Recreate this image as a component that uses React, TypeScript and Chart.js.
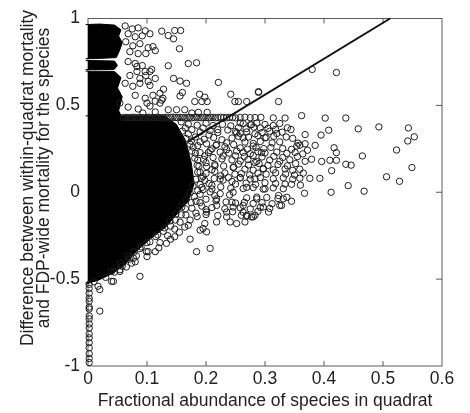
import React, { useEffect, useRef } from 'react';
import { Chart, registerables } from 'chart.js';

Chart.register(...registerables);

type Pt = [number, number];

const xTitle = 'Fractional abundance of species in quadrat';
const yTitleLines = [
  'Difference between within-quadrat mortality',
  'and FDP-wide mortality for the species',
];
const xTicks = [0, 0.1, 0.2, 0.3, 0.4, 0.5, 0.6];
const yTicks = [-1, -0.5, 0, 0.5, 1];

// saturated part of the cloud, where circles merge into solid black
const coreTop: Pt[] = [
  [-0.004, 0.965], [0.02, 0.968], [0.045, 0.962], [0.056, 0.935], [0.052, 0.9],
  [0.058, 0.86], [0.054, 0.82], [0.048, 0.775], [0.01, 0.769], [-0.004, 0.769],
];
const coreMid: Pt[] = [
  [-0.004, 0.758], [0.008, 0.758], [0.045, 0.755], [0.05, 0.73], [0.044, 0.706],
  [0.008, 0.706], [-0.004, 0.706],
];
const coreLow: Pt[] = [
  [-0.004, 0.697], [0.008, 0.697], [0.045, 0.695], [0.056, 0.66], [0.05, 0.6],
  [0.058, 0.55], [0.052, 0.47], [0.06, 0.41], [0.08, 0.34], [0.1, 0.23],
  [0.115, 0.06], [0.122, -0.1], [0.115, -0.2], [0.08, -0.3], [0.06, -0.4],
  [0.045, -0.45], [0.02, -0.5], [-0.004, -0.53],
];
// overlap zone around the core, where circles still read as solid
const halo: Pt[] = [
  [-0.004, 0.44], [0.13, 0.44], [0.15, 0.39], [0.165, 0.3], [0.175, 0.17],
  [0.18, 0.05], [0.17, -0.05], [0.152, -0.12], [0.132, -0.2], [0.105, -0.27],
  [0.082, -0.34], [0.062, -0.42], [0.04, -0.47], [0.015, -0.51], [-0.004, -0.52],
];

const bandRow: Pt[] = [
  [0.06, 0.43], [0.064, 0.431], [0.068, 0.429], [0.072, 0.43], [0.076, 0.432],
  [0.08, 0.43], [0.084, 0.429], [0.088, 0.431], [0.092, 0.43], [0.096, 0.428],
  [0.1, 0.43], [0.104, 0.432], [0.108, 0.43], [0.112, 0.429], [0.116, 0.431],
  [0.12, 0.43], [0.124, 0.428], [0.128, 0.43], [0.132, 0.431], [0.136, 0.429],
  [0.14, 0.43], [0.144, 0.432], [0.148, 0.43], [0.152, 0.429], [0.156, 0.431],
  [0.16, 0.43], [0.164, 0.428], [0.168, 0.43], [0.172, 0.431], [0.176, 0.429],
  [0.18, 0.43], [0.184, 0.432], [0.188, 0.43], [0.192, 0.429], [0.196, 0.431],
  [0.2, 0.43], [0.204, 0.428], [0.208, 0.43], [0.212, 0.431], [0.216, 0.429],
  [0.22, 0.43], [0.225, 0.432], [0.23, 0.43], [0.235, 0.429], [0.24, 0.431],
  [0.245, 0.43], [0.25, 0.428], [0.258, 0.43], [0.266, 0.432], [0.275, 0.429],
  [0.283, 0.43], [0.293, 0.431], [0.314, 0.428], [0.334, 0.427], [0.362, 0.441],
  [0.402, 0.427], [0.437, 0.427],
];

const upperCloud: Pt[] = [
  [0.063, 0.957], [0.075, 0.94], [0.085, 0.946], [0.097, 0.929], [0.068, 0.912],
  [0.08, 0.895], [0.092, 0.9], [0.105, 0.912], [0.064, 0.866], [0.076, 0.843],
  [0.088, 0.855], [0.102, 0.832], [0.071, 0.809], [0.085, 0.798], [0.098, 0.798],
  [0.114, 0.815], [0.125, 0.927], [0.136, 0.902], [0.147, 0.931], [0.157, 0.931],
  [0.145, 0.883], [0.155, 0.826], [0.11, 0.838], [0.068, 0.752], [0.08, 0.741],
  [0.092, 0.729], [0.083, 0.695], [0.098, 0.672], [0.108, 0.707], [0.071, 0.672],
  [0.063, 0.627], [0.076, 0.61], [0.088, 0.627], [0.102, 0.638], [0.114, 0.655],
  [0.122, 0.57], [0.08, 0.558], [0.097, 0.541], [0.114, 0.524], [0.127, 0.541],
  [0.054, 0.513], [0.068, 0.49], [0.085, 0.479], [0.105, 0.496], [0.122, 0.513],
  [0.136, 0.728], [0.17, 0.741], [0.184, 0.745], [0.145, 0.655], [0.156, 0.64],
  [0.167, 0.627], [0.221, 0.632], [0.128, 0.593], [0.16, 0.574], [0.156, 0.554],
  [0.189, 0.564], [0.181, 0.522], [0.193, 0.522], [0.202, 0.522], [0.198, 0.547],
  [0.242, 0.564], [0.249, 0.522], [0.255, 0.522], [0.269, 0.522], [0.289, 0.575],
  [0.323, 0.522], [0.136, 0.475], [0.15, 0.475], [0.164, 0.475], [0.176, 0.456],
  [0.187, 0.46], [0.202, 0.46], [0.114, 0.462], [0.083, 0.724], [0.097, 0.695],
  [0.105, 0.695], [0.088, 0.655], [0.105, 0.615], [0.11, 0.558], [0.125, 0.53],
  [0.1, 0.513], [0.093, 0.456], [0.38, 0.707], [0.421, 0.689],
];

const midCloud: Pt[] = [
  [0.17, 0.392], [0.185, 0.386], [0.2, 0.397], [0.212, 0.384], [0.228, 0.391],
  [0.242, 0.382], [0.263, 0.395], [0.275, 0.388], [0.286, 0.398], [0.3, 0.39],
  [0.314, 0.384], [0.325, 0.396],
  [0.16, 0.352], [0.176, 0.36], [0.19, 0.347], [0.207, 0.355], [0.22, 0.344],
  [0.237, 0.358], [0.25, 0.349], [0.258, 0.339], [0.269, 0.347], [0.283, 0.336],
  [0.295, 0.344], [0.308, 0.351], [0.32, 0.338], [0.329, 0.346],
  [0.166, 0.31], [0.182, 0.318], [0.197, 0.305], [0.213, 0.315], [0.227, 0.302],
  [0.244, 0.312], [0.266, 0.289], [0.28, 0.281], [0.292, 0.292], [0.312, 0.284],
  [0.325, 0.29], [0.356, 0.283], [0.368, 0.279],
  [0.173, 0.276], [0.186, 0.268], [0.201, 0.279], [0.217, 0.27], [0.232, 0.262],
  [0.247, 0.274],
  [0.176, 0.236], [0.19, 0.228], [0.207, 0.24], [0.224, 0.231], [0.239, 0.225],
  [0.252, 0.237], [0.263, 0.23], [0.275, 0.222], [0.288, 0.233], [0.3, 0.226],
  [0.32, 0.231], [0.337, 0.224], [0.351, 0.229], [0.364, 0.221],
  [0.181, 0.196], [0.196, 0.189], [0.212, 0.2], [0.227, 0.192], [0.244, 0.186],
  [0.258, 0.18], [0.271, 0.188], [0.286, 0.177], [0.308, 0.185], [0.325, 0.179],
  [0.342, 0.187], [0.368, 0.178],
  [0.185, 0.155], [0.201, 0.148], [0.215, 0.16], [0.23, 0.151], [0.247, 0.145],
  [0.266, 0.133], [0.28, 0.127], [0.297, 0.137], [0.314, 0.129], [0.334, 0.134],
  [0.347, 0.126], [0.359, 0.132],
  [0.186, 0.115], [0.2, 0.108], [0.215, 0.12], [0.232, 0.111], [0.249, 0.104],
  [0.183, 0.075], [0.198, 0.068], [0.214, 0.079], [0.229, 0.07], [0.244, 0.062],
  [0.258, 0.082], [0.275, 0.076], [0.292, 0.085], [0.314, 0.078], [0.331, 0.083],
  [0.347, 0.075], [0.359, 0.081],
  [0.178, 0.036], [0.193, 0.028], [0.21, 0.04], [0.225, 0.031], [0.242, 0.024],
  [0.263, 0.021], [0.28, 0.027], [0.297, 0.018], [0.314, 0.025], [0.331, 0.02],
  [0.173, -0.004], [0.19, -0.012], [0.207, 0.002], [0.224, -0.008], [0.24, -0.015],
  [0.269, -0.032], [0.286, -0.038], [0.303, -0.03], [0.322, -0.036], [0.337, -0.029],
  [0.166, -0.045], [0.183, -0.052], [0.2, -0.04], [0.217, -0.049], [0.234, -0.056],
  [0.159, -0.085], [0.176, -0.092], [0.193, -0.08], [0.21, -0.088], [0.258, -0.09],
  [0.275, -0.096], [0.292, -0.087], [0.308, -0.093],
  [0.149, -0.125], [0.166, -0.131], [0.183, -0.12], [0.2, -0.128], [0.22, -0.134],
  [0.269, -0.138], [0.283, -0.132],
  [0.139, -0.165], [0.156, -0.172], [0.173, -0.16], [0.13, -0.205], [0.147, -0.212],
  [0.164, -0.2], [0.118, -0.245], [0.135, -0.25], [0.105, -0.285], [0.122, -0.29],
  [0.088, -0.325], [0.068, -0.37], [0.082, -0.366], [0.055, -0.41], [0.04, -0.456],
];

const fillCloud: Pt[] = [
  [0.255, 0.372], [0.268, 0.366], [0.281, 0.375], [0.305, 0.368], [0.318, 0.362],
  [0.338, 0.371], [0.255, 0.322], [0.272, 0.318], [0.288, 0.326], [0.302, 0.315],
  [0.315, 0.322], [0.336, 0.318], [0.347, 0.31], [0.258, 0.255], [0.27, 0.248],
  [0.285, 0.258], [0.298, 0.251], [0.31, 0.258], [0.33, 0.252], [0.345, 0.247],
  [0.372, 0.242], [0.25, 0.21], [0.265, 0.206], [0.28, 0.212], [0.295, 0.203],
  [0.315, 0.207], [0.33, 0.2], [0.355, 0.205], [0.255, 0.162], [0.272, 0.157],
  [0.29, 0.165], [0.305, 0.155], [0.322, 0.16], [0.338, 0.152], [0.352, 0.165],
  [0.26, 0.107], [0.274, 0.1], [0.288, 0.11], [0.302, 0.104], [0.318, 0.112],
  [0.335, 0.105], [0.35, 0.099], [0.365, 0.11], [0.25, 0.047], [0.268, 0.052],
  [0.284, 0.045], [0.3, 0.055], [0.318, 0.05], [0.345, 0.046], [0.36, 0.041],
  [0.25, -0.062], [0.265, -0.058], [0.28, -0.065], [0.295, -0.06], [0.312, -0.066],
  [0.345, -0.052], [0.245, -0.112], [0.263, -0.115], [0.288, -0.11],
  [0.195, 0.37], [0.205, 0.33], [0.22, 0.36], [0.19, 0.29], [0.21, 0.25],
  [0.198, 0.21], [0.235, 0.245], [0.2, 0.17], [0.21, 0.13], [0.225, 0.095],
  [0.195, 0.09], [0.205, 0.05], [0.195, 0.015], [0.215, -0.02], [0.19, -0.06],
  [0.2, -0.1], [0.185, -0.14], [0.17, -0.19], [0.155, -0.23], [0.14, -0.27],
  [0.12, -0.32], [0.1, -0.37], [0.08, -0.4], [0.065, -0.43],
];

// circles straddling the edge of the solid overlap zone
const rimCloud: Pt[] = [
  [0.158, 0.405], [0.165, 0.37], [0.17, 0.335], [0.175, 0.295], [0.178, 0.26],
  [0.182, 0.225], [0.186, 0.185], [0.188, 0.15], [0.19, 0.115], [0.192, 0.08],
  [0.19, 0.045], [0.186, 0.01], [0.18, -0.025], [0.175, -0.06], [0.165, -0.095],
  [0.158, -0.13], [0.148, -0.16], [0.14, -0.195], [0.128, -0.225], [0.115, -0.255],
  [0.1, -0.29], [0.09, -0.315], [0.078, -0.345], [0.07, -0.385], [0.058, -0.425],
  [0.045, -0.46], [0.03, -0.49], [0.01, -0.515],
];

const edgeCloud: Pt[] = [
  [0.017, -0.541], [0.02, -0.56], [0.04, -0.513], [0.054, -0.456], [0.074, -0.408],
  [0.077, -0.38], [0.099, -0.342], [0.114, -0.342], [0.133, -0.294], [0.147, -0.256],
  [0.173, -0.27], [0.184, -0.342], [0.207, -0.323], [0.19, -0.218], [0.201, -0.228],
  [0.198, -0.18], [0.218, -0.171], [0.235, -0.142], [0.252, -0.18], [0.26, -0.133],
  [0.246, -0.085], [0.232, -0.095], [0.266, -0.171], [0.277, -0.142], [0.306, -0.114],
  [0.325, -0.076], [0.297, -0.085], [0.088, -0.484], [0.241, -0.171], [0.102, -0.342],
  [0.054, -0.446], [0.043, -0.513], [0.02, -0.684], [0.244, -0.057], [0.263, -0.076],
  [0.286, -0.028], [0.3, 0.019], [0.246, 0.0], [0.269, 0.028], [0.283, 0.076],
  [0.297, 0.133], [0.283, 0.171], [0.294, 0.228], [0.28, 0.266], [0.263, 0.313],
  [0.252, 0.342], [0.258, 0.399], [0.277, 0.389], [0.292, 0.37], [0.3, 0.313],
  [0.235, 0.285], [0.229, 0.209], [0.246, 0.142], [0.258, 0.085], [0.238, 0.085],
  [0.218, -0.038], [0.201, -0.114], [0.195, -0.209], [0.218, -0.076], [0.235, -0.114],
  [0.21, 0.019], [0.224, 0.076], [0.215, 0.152], [0.204, 0.228], [0.218, 0.275],
];

const outerCloud: Pt[] = [
  [0.289, 0.579], [0.344, 0.361], [0.458, 0.365], [0.493, 0.376], [0.543, 0.37],
  [0.553, 0.319], [0.542, 0.295], [0.523, 0.243], [0.465, 0.209], [0.549, 0.142],
  [0.506, 0.089], [0.528, 0.063], [0.441, 0.038], [0.468, 0.006], [0.412, 0.0],
  [0.367, -0.006], [0.408, 0.357], [0.395, 0.329], [0.368, 0.332], [0.385, 0.27],
  [0.417, 0.256], [0.421, 0.228], [0.379, 0.19], [0.396, 0.177], [0.41, 0.184],
  [0.421, 0.184], [0.437, 0.161], [0.446, 0.156], [0.413, 0.124], [0.393, 0.08],
  [0.376, 0.08], [0.354, 0.266], [0.359, 0.271], [0.334, 0.047], [0.323, -0.019],
  [0.331, -0.038], [0.328, -0.076], [0.28, -0.142], [0.269, -0.133],
];

const leftColumn: Pt[] = [
  [0.002, -0.53], [0.002, -0.553], [0.002, -0.581], [0.002, -0.61], [0.002, -0.627],
  [0.002, -0.661], [0.002, -0.672], [0.002, -0.712], [0.002, -0.729], [0.002, -0.758],
  [0.002, -0.781], [0.002, -0.815], [0.002, -0.838], [0.002, -0.866], [0.002, -0.895],
  [0.002, -0.929], [0.002, -0.957], [0.002, -0.98],
];

const fitLine: Pt[] = [[0.17, 0.293], [0.512, 1.0]];

const toXY = (pts: Pt[]) => pts.map(([x, y]) => ({ x, y }));

const FONT = '"Liberation Sans", Arial, Helvetica, sans-serif';
const INK = '#222';

// matlab-like box with inward ticks on all four sides
const framePlugin = {
  id: 'frame',
  beforeDatasetsDraw(chart: any) {
    const { ctx, chartArea, scales } = chart;
    const { left, right, top, bottom } = chartArea;
    ctx.save();
    ctx.strokeStyle = '#5a5a5a';
    ctx.lineWidth = 1;
    ctx.strokeRect(left, top, right - left, bottom - top);
    ctx.beginPath();
    xTicks.slice(1, -1).forEach((v) => {
      const px = scales.x.getPixelForValue(v);
      ctx.moveTo(px, bottom);
      ctx.lineTo(px, bottom - 5);
      ctx.moveTo(px, top);
      ctx.lineTo(px, top + 5);
    });
    yTicks.slice(1, -1).forEach((v) => {
      const py = scales.y.getPixelForValue(v);
      ctx.moveTo(left, py);
      ctx.lineTo(left + 6, py);
      ctx.moveTo(right, py);
      ctx.lineTo(right - 6, py);
    });
    ctx.stroke();
    ctx.restore();
  },
};

const yTitlePlugin = {
  id: 'yTitle',
  afterDraw(chart: any) {
    const { ctx, chartArea } = chart;
    const cy = chartArea.top + (chartArea.bottom - chartArea.top) * 0.459;
    ctx.save();
    ctx.fillStyle = INK;
    ctx.font = `17.5px ${FONT}`;
    ctx.textAlign = 'center';
    ctx.textBaseline = 'alphabetic';
    [33, 48.5].forEach((bx, i) => {
      ctx.save();
      ctx.translate(bx, cy);
      ctx.rotate(-Math.PI / 2);
      ctx.fillText(yTitleLines[i], 0, 0);
      ctx.restore();
    });
    ctx.restore();
  },
};

const polygon = (pts: Pt[], color: string, order: number) => ({
  type: 'line' as const,
  data: toXY(pts),
  backgroundColor: color,
  borderColor: color,
  borderWidth: 1,
  pointRadius: 0,
  fill: 'shape',
  tension: 0,
  clip: false,
  order,
});

const circles = (pts: Pt[]) => ({
  type: 'scatter' as const,
  data: toXY(pts),
  pointStyle: 'circle',
  pointRadius: 3.2,
  pointBorderWidth: 1,
  pointBorderColor: '#1e1e1e',
  pointBackgroundColor: 'rgba(0,0,0,0)',
  showLine: false,
  clip: false,
  order: 1,
});

const ScatterChart: React.FC = () => {
  const canvasRef = useRef<HTMLCanvasElement>(null);
  const chartRef = useRef<Chart | null>(null);

  useEffect(() => {
    document.body.style.margin = '0';
    if (!canvasRef.current) return;
    if (chartRef.current) chartRef.current.destroy();

    chartRef.current = new Chart(canvasRef.current, {
      type: 'scatter',
      data: {
        datasets: [
          {
            type: 'line',
            data: toXY(fitLine),
            borderColor: '#111',
            borderWidth: 2,
            pointRadius: 0,
            fill: false,
            clip: false,
            order: 0,
          } as any,
          circles(upperCloud),
          circles(bandRow),
          circles(midCloud),
          circles(fillCloud),
          circles(rimCloud),
          circles(edgeCloud),
          circles(outerCloud),
          circles(leftColumn),
          polygon(coreTop, '#000', 2),
          polygon(coreMid, '#000', 2),
          polygon(coreLow, '#000', 2),
          polygon(halo, '#000', 3),
        ] as any,
      },
      options: {
        animation: false,
        responsive: false,
        events: [],
        layout: { padding: { left: 0, right: 28, top: 15, bottom: 0 } },
        plugins: {
          legend: { display: false },
          tooltip: { enabled: false },
        },
        scales: {
          x: {
            type: 'linear',
            min: 0,
            max: 0.6,
            afterFit: (s: any) => {
              s.height = 47;
            },
            grid: { display: false, drawTicks: false },
            border: { display: false },
            ticks: {
              stepSize: 0.1,
              padding: 3,
              autoSkip: false,
              maxRotation: 0,
              color: INK,
              font: { family: FONT, size: 17.5 },
            },
            title: {
              display: true,
              text: xTitle,
              color: INK,
              padding: { top: 0, bottom: 1 },
              font: { family: FONT, size: 17.5 },
            },
          },
          y: {
            type: 'linear',
            min: -1,
            max: 1,
            afterFit: (s: any) => {
              s.width = 88;
            },
            grid: { display: false, drawTicks: false },
            border: { display: false },
            ticks: {
              stepSize: 0.5,
              padding: 8,
              color: INK,
              font: { family: FONT, size: 17.5 },
              callback: (v: number) => String(v),
            },
          },
        },
      } as any,
      plugins: [framePlugin, yTitlePlugin],
    });

    return () => {
      if (chartRef.current) {
        chartRef.current.destroy();
        chartRef.current = null;
      }
    };
  }, []);

  return <canvas ref={canvasRef} width={470} height={413} />;
};

export default function App() {
  return (
    <div style={{ width: 470, height: 413, background: '#fff' }}>
      <ScatterChart />
    </div>
  );
}
